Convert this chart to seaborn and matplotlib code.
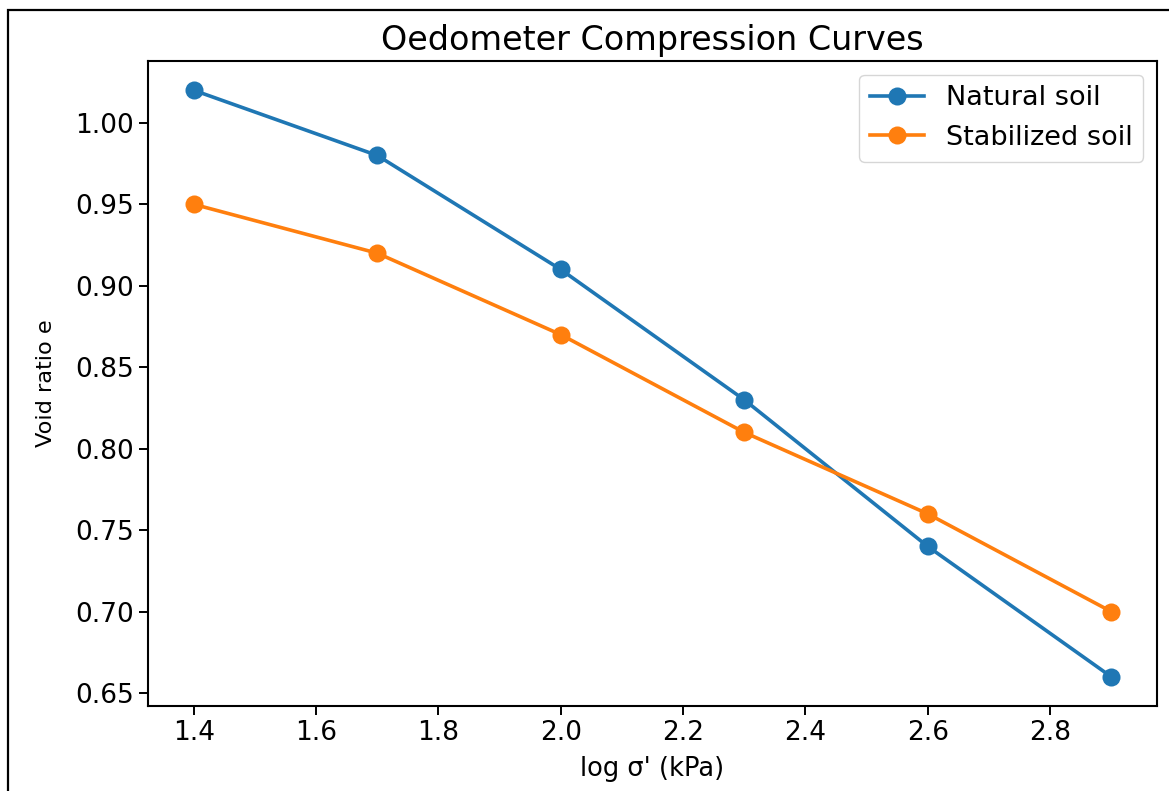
import numpy as np
import pandas as pd
import matplotlib
matplotlib.use("Agg")
import matplotlib.pyplot as plt
import seaborn as sns
from matplotlib.patches import Rectangle

# =========================
# data
# =========================
log_stress = [1.4, 1.7, 2.0, 2.3, 2.6, 2.9]
natural_e = [1.02, 0.98, 0.91, 0.83, 0.74, 0.66]
stabilized_e = [0.95, 0.92, 0.87, 0.81, 0.76, 0.70]
series_names = ["Natural soil", "Stabilized soil"]

df = pd.DataFrame({
    "log_stress": log_stress * 2,
    "e": natural_e + stabilized_e,
    "soil": [series_names[0]] * len(log_stress) + [series_names[1]] * len(log_stress),
})

# =========================
# plot
# =========================
fig = plt.figure(figsize=(11.69, 7.91), dpi=100)
ax = fig.add_axes([148 / 1169, 1 - 706 / 791, (1157 - 148) / 1169, (706 - 61) / 791])

sns.lineplot(
    data=df, x="log_stress", y="e", hue="soil",
    palette=["#1f77b4", "#ff7f0e"], marker="o", markersize=13,
    markeredgewidth=0, linewidth=2.6, ax=ax,
)

ax.set_xticks([1.4, 1.6, 1.8, 2.0, 2.2, 2.4, 2.6, 2.8])
ax.set_yticks([0.65, 0.70, 0.75, 0.80, 0.85, 0.90, 0.95, 1.00])
ax.tick_params(labelsize=19, length=6.5, width=1.4)
for s in ax.spines.values():
    s.set_linewidth(1.5)

ax.set_xlabel("log σ' (kPa)", fontsize=18.5, labelpad=7)
ax.set_ylabel("Void ratio e", fontsize=16.2, labelpad=14)
ax.set_title("Oedometer Compression Curves", fontsize=24, pad=8)
ax.legend(loc="upper right", fontsize=19.5, handlelength=2.0)

# screenshot frame
fig.patches.append(Rectangle((8 / 1169, -0.1), 1.2, 1.1 - 10 / 791, transform=fig.transFigure,
                             fill=False, edgecolor="black", linewidth=1.6))

fig.savefig("out.png", dpi=100)
